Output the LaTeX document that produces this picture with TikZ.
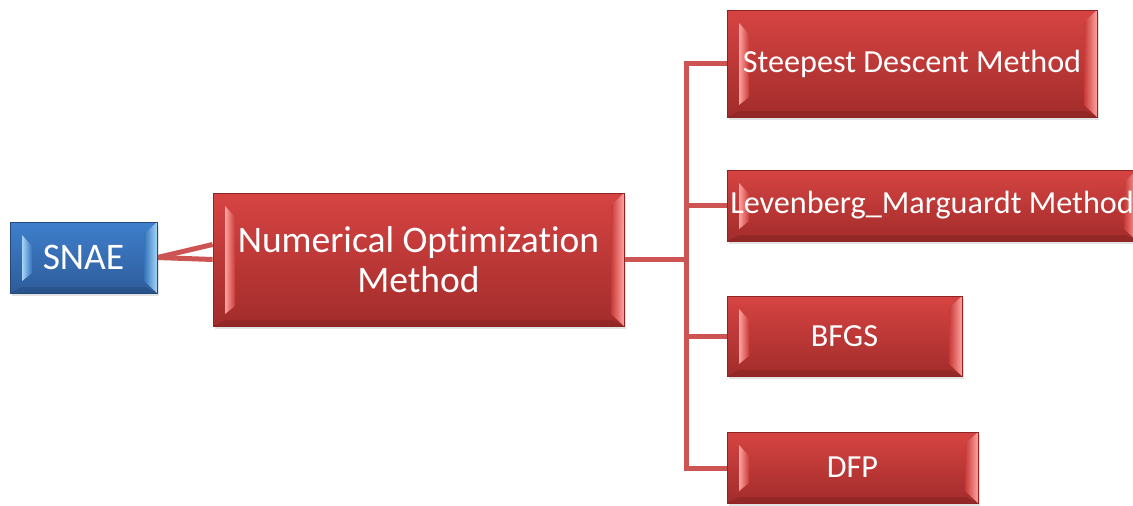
\documentclass[tikz,border=0pt]{standalone}
\usepackage{fontspec}
\setmainfont{Carlito}[Ligatures=NoCommon]
\usetikzlibrary{shadows,backgrounds}
\definecolor{redtop}{HTML}{D64442}
\definecolor{redbot}{HTML}{A22C2B}
\definecolor{redline}{HTML}{8E2423}
\definecolor{redlite}{HTML}{FFA3A0}
\definecolor{redmid}{HTML}{C83A38}
\definecolor{bluetop}{HTML}{3F7FCC}
\definecolor{bluebot}{HTML}{2D5C9A}
\definecolor{blueline}{HTML}{24497A}
\definecolor{bluelite}{HTML}{A4D6F8}
\definecolor{bluemid}{HTML}{3572BC}
\definecolor{wire}{HTML}{CC5453}
\tikzset{
  bevelbox/.style n args={5}{
    rectangle, inner sep=0pt, text=white, align=center,
    draw=#3, line width=0.8pt,
    top color=#1, bottom color=#2,
    drop shadow={opacity=0.22, shadow xshift=2pt, shadow yshift=-3pt},
    path picture={
      \coordinate (SW) at (path picture bounding box.south west);
      \coordinate (NE) at (path picture bounding box.north east);
      \coordinate (NW) at (path picture bounding box.north west);
      \coordinate (SE) at (path picture bounding box.south east);
      % thin darker rim along the bottom
      \fill[#2!80!black, opacity=0.5] (SW) -- (SE) -- ([xshift=-12pt,yshift=6pt]SE)
        -- ([xshift=12pt,yshift=6pt]SW) -- cycle;
      % left bevel face, set inside the frame
      \shade[left color=#4, right color=#5] ([xshift=12pt,yshift=-13pt]NW)
        -- ([xshift=22pt,yshift=-24pt]NW) -- ([xshift=22pt,yshift=20pt]SW)
        -- ([xshift=12pt,yshift=12pt]SW) -- cycle;
      % right bevel face, reaching the corners
      \shade[left color=#5, right color=#4] (NE)
        -- ([xshift=-13pt,yshift=-12pt]NE) -- ([xshift=-13pt,yshift=12pt]SE)
        -- (SE) -- cycle;
    }
  },
  redbox/.style={bevelbox={redtop}{redbot}{redline}{redlite}{redmid}},
  bluebox/.style={bevelbox={bluetop}{bluebot}{blueline}{bluelite}{bluemid}},
  wireline/.style={draw=wire, line width=5pt},
  bigtext/.style={font=\fontsize{37.5}{40}\selectfont},
  midtext/.style={font=\fontsize{32.2}{36}\selectfont},
}
\begin{document}
\begin{tikzpicture}[x=1pt, y=-1pt]
\useasboundingbox (0,0) rectangle (1133,506);

\node[bluebox, bigtext, minimum width=147pt, minimum height=71pt] (snae) at (83.5,257.5) {SNAE};
\node[redbox, bigtext, minimum width=411pt, minimum height=133pt] (main) at (418.5,259.5)
  {Numerical Optimization\\Method};
\node[redbox, midtext, minimum width=370pt, minimum height=107pt] (sd) at (912,63.5)
  {Steepest Descent Method};
\node[redbox, midtext, minimum width=410pt, minimum height=71pt] (lm) at (932,205.5)
  {Levenberg\_Marguardt Method};
\node[redbox, midtext, minimum width=235pt, minimum height=80pt] (bfgs) at (844.5,336) {BFGS};
\node[redbox, midtext, minimum width=251pt, minimum height=71pt] (dfp) at (852.5,467.5) {DFP};

% vertical bus and its ends
\coordinate (bt) at (686,63);
\coordinate (bb) at (686,468);

\begin{scope}[on background layer]
  \draw[wireline] (snae.east) -- (main.west);
  \draw[wireline] (snae.east) -- ([yshift=15pt]main.west);
  \draw[wireline] (main.east) -- (main.east -| bt);
  \draw[wireline, line cap=rect] (bt) -- (bb);
  \draw[wireline] (bt) -- (sd.west |- bt);
  \draw[wireline] (lm.west -| bt) -- (lm.west);
  \draw[wireline] (bfgs.west -| bt) -- (bfgs.west);
  \draw[wireline] (bb) -- (dfp.west |- bb);
\end{scope}
\end{tikzpicture}
\end{document}
